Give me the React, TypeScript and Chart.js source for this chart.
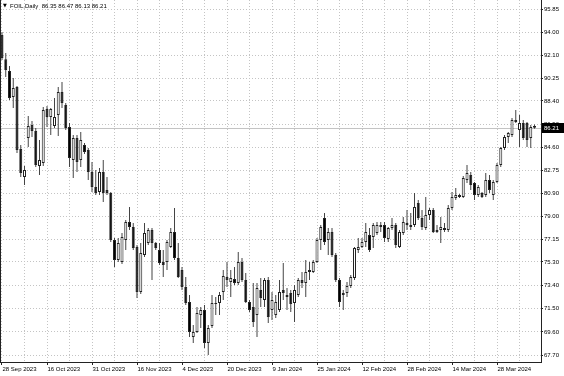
import React, { useEffect, useRef } from 'react';
import { Chart, registerables } from 'chart.js';

Chart.register(...registerables);

const symbolTitle = 'FOIL,Daily';

const opens = [
  93.76, 91.78, 90.83, 88.72, 89.53, 84.48, 82.21, 85.38, 86.44, 85.95,
  83.10, 83.34, 87.74, 87.09, 86.36, 87.25, 89.12, 88.06, 86.27, 83.59,
  85.38, 83.59, 84.81, 84.40, 82.61, 81.39, 80.99, 82.61, 81.15, 80.90,
  77.08, 75.45, 75.29, 77.08, 78.54, 78.14, 76.51, 72.85, 75.86, 76.84,
  77.89, 76.84, 76.27, 75.29, 75.29, 76.51, 77.73, 75.62, 74.64, 73.26,
  72.04, 69.19, 69.59, 70.98, 71.39, 68.70, 70.08, 71.87, 71.95, 72.85,
  74.07, 73.66, 73.91, 73.58, 75.29, 73.83, 72.04, 71.63, 70.98, 73.01,
  72.20, 73.83, 71.39, 70.98, 71.39, 73.01, 72.61, 72.77, 71.95, 72.61,
  73.83, 73.58, 74.64, 74.48, 75.29, 77.08, 78.87, 77.08, 77.73, 75.86,
  73.83, 72.61, 72.77, 73.34, 73.99, 76.27, 76.51, 76.92, 77.49, 77.32,
  77.65, 78.30, 78.30, 77.16, 78.06, 78.30, 76.51, 77.65, 78.46, 78.14,
  78.30, 80.09, 78.87, 78.06, 79.11, 79.52, 77.89, 77.89, 77.89, 77.89,
  79.68, 80.50, 80.74, 80.58, 81.96, 82.37, 81.72, 80.74, 80.90, 80.74,
  81.96, 80.74, 81.80, 83.18, 84.57, 85.46, 85.62, 86.84, 86.03, 86.60,
  86.60, 85.38, 86.35,
];
const highs = [
  94.00, 92.30, 91.24, 90.26, 89.61, 84.81, 83.10, 87.17, 86.76, 86.19,
  85.22, 87.90, 87.98, 87.82, 88.63, 89.53, 89.94, 88.23, 86.60, 85.62,
  85.62, 85.87, 84.97, 84.57, 83.43, 82.78, 82.94, 83.59, 82.21, 80.99,
  77.24, 77.24, 77.65, 78.71, 79.77, 78.46, 76.67, 76.84, 78.46, 78.06,
  78.06, 76.92, 76.84, 76.27, 77.08, 78.06, 79.68, 76.84, 74.88, 74.07,
  72.61, 70.17, 71.63, 71.63, 71.79, 70.17, 72.61, 72.44, 72.85, 74.64,
  75.29, 74.64, 74.88, 76.10, 75.62, 74.40, 72.20, 73.58, 73.58, 73.99,
  73.99, 74.07, 72.85, 72.61, 73.83, 75.21, 73.18, 73.01, 73.42, 73.99,
  74.48, 75.45, 75.29, 75.45, 77.24, 78.30, 79.28, 78.06, 78.06, 76.02,
  73.99, 73.01, 73.66, 74.23, 76.51, 77.24, 77.24, 78.46, 78.06, 78.46,
  78.54, 78.54, 78.54, 78.14, 78.87, 78.46, 77.89, 78.95, 79.52, 79.28,
  80.90, 80.34, 79.52, 80.58, 79.68, 79.68, 78.30, 78.95, 78.46, 79.93,
  80.99, 81.31, 80.82, 82.29, 83.18, 82.61, 81.80, 81.56, 80.99, 82.53,
  82.37, 81.96, 83.34, 84.65, 85.62, 85.87, 87.01, 87.66, 87.25, 86.84,
  86.68, 86.44, 86.47,
];
const lows = [
  91.73, 90.34, 88.47, 87.82, 84.16, 82.21, 81.56, 84.65, 85.46, 83.02,
  82.37, 83.10, 86.27, 85.62, 86.19, 85.54, 87.82, 86.03, 83.02, 82.12,
  82.61, 83.02, 84.08, 81.96, 80.99, 80.74, 80.74, 80.17, 80.74, 76.92,
  74.88, 75.29, 75.13, 76.27, 77.89, 76.27, 72.36, 72.69, 75.70, 76.67,
  73.83, 76.27, 75.05, 74.07, 74.64, 76.43, 75.45, 73.99, 73.01, 71.79,
  69.19, 68.70, 69.51, 69.92, 68.29, 67.72, 69.92, 70.98, 70.98, 72.20,
  73.26, 72.44, 73.42, 73.42, 73.66, 71.95, 71.22, 70.00, 69.19, 71.63,
  71.63, 70.33, 70.57, 70.74, 71.22, 72.20, 71.39, 71.22, 70.41, 72.44,
  73.18, 72.44, 73.83, 74.40, 75.21, 76.27, 76.67, 75.86, 75.70, 73.66,
  71.63, 71.39, 72.44, 73.18, 73.83, 76.02, 76.43, 76.51, 76.10, 76.43,
  77.49, 77.73, 76.92, 76.92, 77.89, 76.43, 76.43, 77.49, 77.89, 77.89,
  78.14, 78.71, 77.89, 77.89, 78.71, 77.65, 77.65, 76.84, 77.73, 77.73,
  79.52, 80.34, 80.50, 80.50, 81.72, 81.15, 80.34, 80.58, 80.50, 80.58,
  80.90, 80.34, 81.72, 83.02, 84.40, 84.97, 85.46, 86.60, 84.65, 85.22,
  84.65, 84.57, 86.13,
];
const closes = [
  91.89, 90.91, 88.63, 89.45, 84.40, 82.53, 82.78, 86.36, 85.95, 83.18,
  83.59, 87.66, 87.09, 87.74, 87.09, 89.12, 88.23, 86.19, 83.75, 85.38,
  83.43, 85.22, 84.24, 82.61, 81.39, 80.90, 82.61, 80.90, 80.90, 77.08,
  75.45, 76.84, 77.32, 78.54, 78.14, 76.43, 72.85, 76.02, 77.65, 77.89,
  76.84, 76.43, 75.21, 75.05, 76.92, 77.73, 75.62, 74.07, 73.26, 71.95,
  69.59, 69.59, 71.14, 71.39, 68.70, 69.92, 71.95, 71.95, 72.61, 74.15,
  73.83, 73.99, 73.58, 75.29, 73.83, 72.04, 71.39, 70.41, 73.18, 72.36,
  73.83, 70.82, 72.20, 72.04, 72.85, 72.77, 72.44, 71.87, 73.01, 73.83,
  73.58, 74.48, 74.48, 75.29, 77.08, 78.14, 76.92, 77.73, 75.86, 73.83,
  72.04, 72.77, 73.34, 74.07, 76.43, 76.51, 76.92, 77.73, 76.27, 78.30,
  78.30, 78.14, 77.24, 78.06, 78.30, 76.67, 77.73, 78.54, 78.30, 78.30,
  79.77, 78.87, 78.14, 79.11, 79.52, 77.73, 77.73, 78.14, 78.06, 79.68,
  80.58, 80.74, 80.58, 82.12, 82.53, 81.56, 80.74, 81.39, 80.58, 81.96,
  81.15, 81.80, 83.18, 84.57, 85.46, 85.79, 86.84, 86.68, 86.60, 85.38,
  85.22, 86.27, 86.21,
];

const xTickLabels = [
  '28 Sep 2023', '16 Oct 2023', '31 Oct 2023', '16 Nov 2023', '4 Dec 2023', '20 Dec 2023',
  '9 Jan 2024', '25 Jan 2024', '12 Feb 2024', '28 Feb 2024', '14 Mar 2024', '28 Mar 2024',
];
const yTickValues = [
  95.85, 94.0, 92.1, 90.25, 88.4, 86.5, 84.6, 82.75, 80.9, 79.0, 77.15, 75.3, 73.4, 71.5, 69.6, 67.7,
];

const FONT = '"Liberation Sans", Arial, sans-serif';
const BARS_PER_LABEL = 12;
const BARS_PER_GRID = 6;

export default function App() {
  const ref = useRef<HTMLCanvasElement | null>(null);

  useEffect(() => {
    const canvas = ref.current;
    if (!canvas) return;
    document.body.style.margin = '0';

    const last = closes.length - 1;
    const header = `${symbolTitle}  ${opens[last].toFixed(2)} ${highs[last].toFixed(2)} ${lows[last].toFixed(2)} ${closes[last].toFixed(2)}`;

    const overlay = {
      id: 'overlay',
      beforeDatasetsDraw(chart: any) {
        const { ctx, chartArea, scales } = chart;
        const y = Math.round(scales.y.getPixelForValue(closes[last])) + 0.5;
        ctx.save();
        ctx.strokeStyle = '#c4c4c4';
        ctx.lineWidth = 1;
        ctx.beginPath();
        ctx.moveTo(chartArea.left, y);
        ctx.lineTo(chartArea.right, y);
        ctx.stroke();
        ctx.restore();
      },
      afterDraw(chart: any) {
        const { ctx, chartArea, scales } = chart;
        ctx.save();
        ctx.strokeStyle = '#222';
        ctx.lineWidth = 1;
        ctx.beginPath();
        ctx.moveTo(0.5, chartArea.top);
        ctx.lineTo(0.5, chartArea.bottom);
        ctx.stroke();
        ctx.fillStyle = '#000';
        ctx.textBaseline = 'middle';
        ctx.textAlign = 'left';
        ctx.font = `5px "DejaVu Sans"`;
        ctx.fillText('▼', 3, 6);
        ctx.font = `6px ${FONT}`;
        ctx.fillText(header, 10, 6);
        const y = scales.y.getPixelForValue(closes[last]);
        ctx.fillStyle = '#000';
        ctx.fillRect(chartArea.right + 1, Math.round(y) - 5, 22, 10);
        ctx.fillStyle = '#fff';
        ctx.font = `6px ${FONT}`;
        ctx.fillText(closes[last].toFixed(2), chartArea.right + 3, Math.round(y) + 0.5);
        ctx.restore();
      },
    };

    const idx = opens.map((_, i) => i);
    const gridIdx: number[] = [];
    for (let v = 0; v < opens.length; v += BARS_PER_GRID) gridIdx.push(v);

    const chart = new Chart(canvas, {
      type: 'bar',
      data: {
        datasets: [
          {
            label: 'body',
            data: idx.map((i) => ({ x: i, y: [opens[i], closes[i]] })) as any,
            backgroundColor: idx.map((i) => (closes[i] >= opens[i] ? '#ffffff' : '#000000')),
            borderColor: '#222',
            borderWidth: 1,
            borderSkipped: false,
            barThickness: 3,
            minBarLength: 1,
            inflateAmount: 0,
            grouped: false,
          } as any,
          {
            label: 'wick',
            data: idx.map((i) => ({ x: i, y: [lows[i], highs[i]] })) as any,
            backgroundColor: '#444',
            borderWidth: 0,
            barThickness: 1,
            inflateAmount: 0,
            grouped: false,
          } as any,
        ],
      },
      options: {
        responsive: false,
        animation: false,
        devicePixelRatio: 1,
        layout: { padding: 0 },
        plugins: { legend: { display: false }, tooltip: { enabled: false } },
        scales: {
          x: {
            type: 'linear',
            offset: false,
            min: -0.5333,
            max: 143.73,
            afterBuildTicks: (scale: any) => {
              scale.ticks = gridIdx.map((v) => ({ value: v }));
            },
            afterFit: (scale: any) => {
              scale.height = 14;
              scale.paddingLeft = 0;
              scale.paddingRight = 0;
            },
            ticks: {
              autoSkip: false,
              maxRotation: 0,
              align: 'start',
              labelOffset: 0.5,
              padding: 1,
              color: '#000',
              font: { family: FONT, size: 6 },
              callback: (v: any) => (v % BARS_PER_LABEL === 0 ? xTickLabels[v / BARS_PER_LABEL] : ''),
            },
            grid: {
              offset: false,
              color: '#c4c4c4',
              tickLength: 3,
              tickColor: (ctx: any) => (ctx.tick && ctx.tick.value % BARS_PER_LABEL === 0 ? '#222' : 'rgba(0,0,0,0)'),
              tickBorderDash: [],
            } as any,
            border: { display: true, color: '#222', width: 1, dash: [1, 2] },
          } as any,
          y: {
            position: 'right',
            min: 67.155,
            max: 96.607,
            afterBuildTicks: (scale: any) => {
              scale.ticks = yTickValues.map((v) => ({ value: v }));
            },
            afterFit: (scale: any) => {
              scale.width = 23;
              scale.paddingTop = 0;
              scale.paddingBottom = 0;
            },
            ticks: {
              autoSkip: false,
              padding: 1,
              color: '#000',
              font: { family: FONT, size: 6 },
              callback: (v: any) => Number(v).toFixed(2),
            },
            grid: {
              color: '#c4c4c4',
              tickLength: 2,
              tickColor: '#222',
              tickBorderDash: [],
            } as any,
            border: { display: true, color: '#222', width: 1, dash: [1, 2] },
          } as any,
        },
      },
      plugins: [overlay],
    });

    return () => chart.destroy();
  }, []);

  return (
    <div style={{ position: 'absolute', left: 0, top: 0, width: 564, height: 376, background: '#fff' }}>
      <canvas ref={ref} width={564} height={376} />
    </div>
  );
}
